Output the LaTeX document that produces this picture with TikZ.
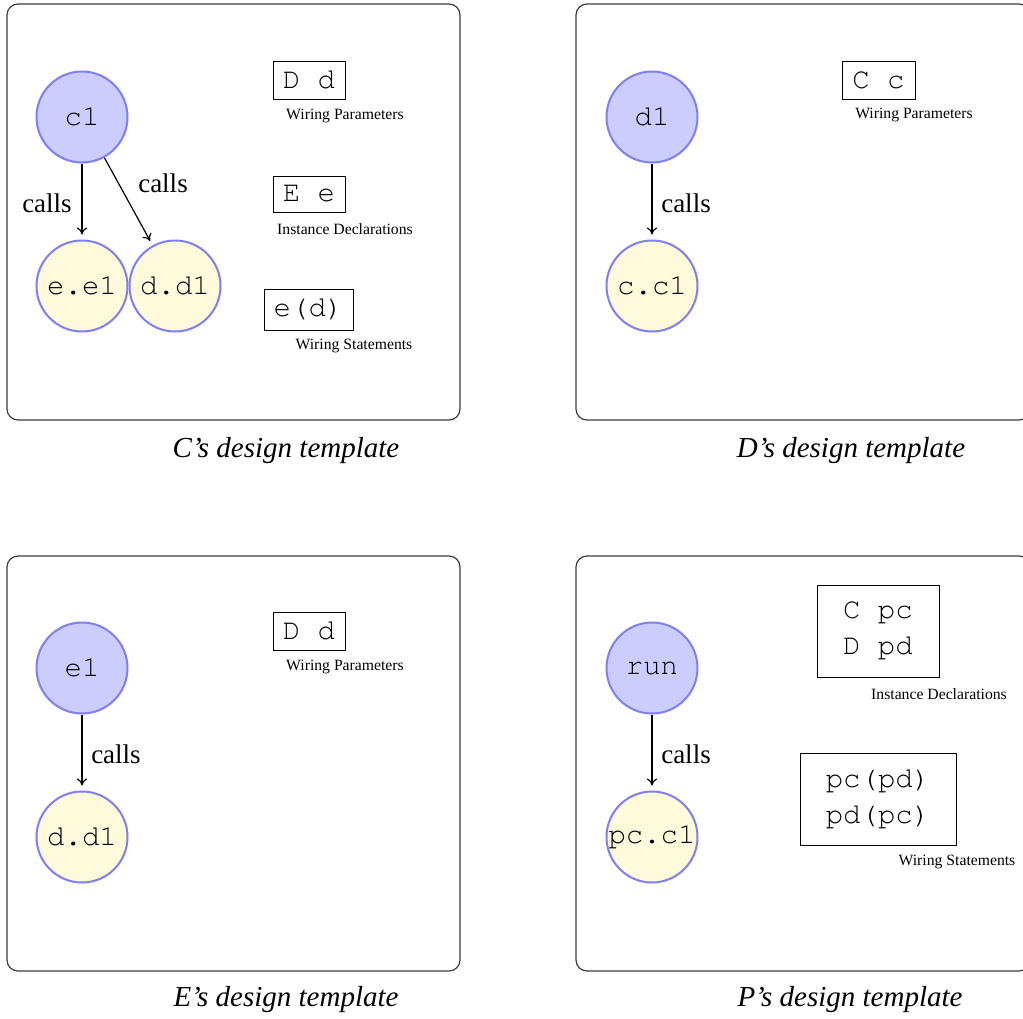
\documentclass[tikz,border=0pt]{standalone}
\usepackage{fontspec}
\usetikzlibrary{arrows.meta}
\setmainfont{Liberation Serif}
\setmonofont{texgyrecursor-regular.otf}
\definecolor{cblue}{RGB}{204,204,255}
\definecolor{cborder}{RGB}{127,127,245}
\definecolor{cyel}{RGB}{255,250,220}
\definecolor{panelgray}{RGB}{60,60,60}
\begin{document}
\begin{tikzpicture}[x=1pt,y=-1pt,
  panel/.style={draw=panelgray, line width=1.2pt, rounded corners=11pt},
  caller/.style={circle, draw=cborder, line width=2pt, fill=cblue, minimum size=91pt, inner sep=0pt, font=\fontsize{29}{34}\selectfont\ttfamily},
  callee/.style={circle, draw=cborder, line width=2pt, fill=cyel, minimum size=91pt, inner sep=0pt, font=\fontsize{29}{34}\selectfont\ttfamily},
  arr/.style={-{To[length=7pt,width=10pt]}, line width=1.2pt, shorten >=5pt, shorten <=0pt},
  lbl/.style={inner sep=0pt, font=\fontsize{27}{32}\selectfont},
  codebox/.style={draw, line width=1pt, inner sep=0pt, align=center, font=\fontsize{29}{36}\selectfont\ttfamily},
  small/.style={inner sep=0pt, font=\fontsize{15.7}{18}\selectfont},
  captxt/.style={inner sep=0pt, font=\fontsize{29}{34}\selectfont\itshape}]
\useasboundingbox (0,0) rectangle (1023,1018);
% panels
\draw[panel] (7,4) rectangle (460,420);
\draw[panel] (576,4) rectangle (1030,420);
\draw[panel] (7,556) rectangle (460,971);
\draw[panel] (576,556) rectangle (1030,971);

% ---- C's template
\node[caller] (c1) at (82,117) {c1};
\node[callee] (ee1) at (82,286) {e.e1};
\node[callee] (dd1) at (175,286) {d.d1};
\draw[arr] (c1) -- (ee1);
\draw[arr] (c1) -- (dd1);
\node[lbl] (lc1) at (47,203) {calls};
\node[lbl] (lc2) at (163,183) {calls};
\node[codebox, minimum width=72pt, minimum height=38pt] (bDd) at (309,80) {D d};
\node[small] (tDd) at (345,116) {Wiring Parameters};
\node[codebox, minimum width=72pt, minimum height=36pt] (bEe) at (309,194) {E e};
\node[small] (tEe) at (345,229) {Instance Declarations};
\node[codebox, minimum width=89pt, minimum height=41pt] (bed) at (308.5,309.5) {e(d)};
\node[small] (ted) at (354,346) {Wiring Statements};
\node[captxt] (capC) at (286,451) {C's design template};

% ---- D's template
\node[caller] (d1) at (652,117) {d1};
\node[callee] (cc1) at (652,286) {c.c1};
\draw[arr] (d1) -- (cc1);
\node[lbl] (ld1) at (686,203) {calls};
\node[codebox, minimum width=73pt, minimum height=38pt] (bCc) at (878.5,80) {C c};
\node[small] (tCc) at (914,115) {Wiring Parameters};
\node[captxt] (capD) at (851,451) {D's design template};

% ---- E's template
\node[caller] (e1) at (82,668) {e1};
\node[callee] (edd1) at (82,837) {d.d1};
\draw[arr] (e1) -- (edd1);
\node[lbl] (le1) at (116,754) {calls};
\node[codebox, minimum width=72pt, minimum height=38pt] (bEDd) at (309,631) {D d};
\node[small] (tEDd) at (345,667) {Wiring Parameters};
\node[captxt] (capE) at (286,1000) {E's design template};

% ---- P's template
\node[caller] (run) at (652,668) {run};
\node[callee] (pcc1) at (652,837) {pc.c1};
\draw[arr] (run) -- (pcc1);
\node[lbl] (lp1) at (686,754) {calls};
\node[codebox, minimum width=122pt, minimum height=92pt] (bdecl) at (878,631) {C pc\\D pd};
\node[small] (tdecl) at (939,694) {Instance Declarations};
\node[codebox, minimum width=156pt, minimum height=92pt] (bwire) at (878,799) {pc(pd)\\pd(pc)};
\node[small] (twire) at (957,862) {Wiring Statements};
\node[captxt] (capP) at (850,1000) {P's design template};
\end{tikzpicture}
\end{document}
